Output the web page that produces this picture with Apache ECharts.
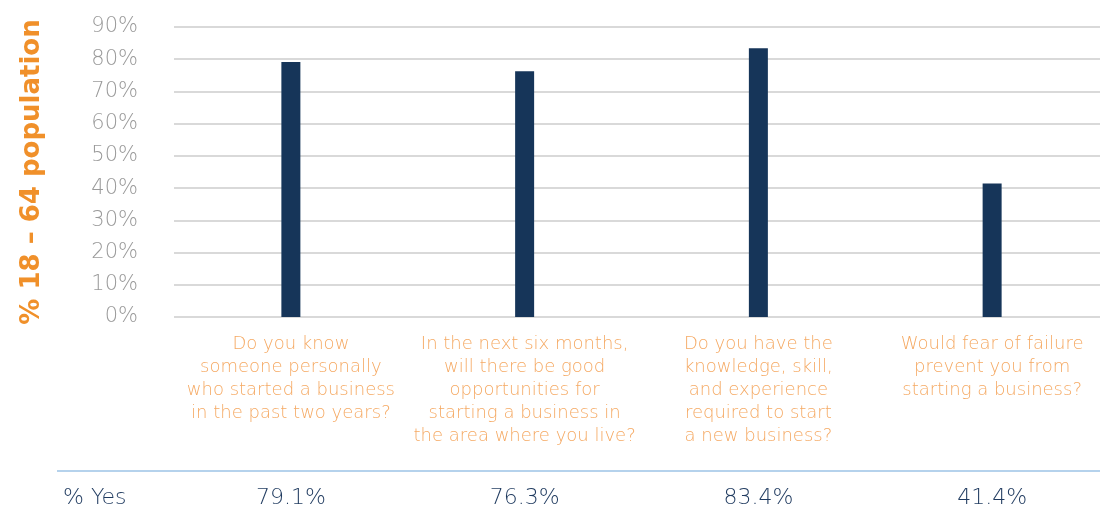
<!DOCTYPE html>
<html>
<head>
<meta charset="utf-8">
<script src="https://cdn.jsdelivr.net/npm/echarts@6/dist/echarts.min.js"></script>
<style>
  html, body { margin: 0; padding: 0; background: #fff; }
  #chart { width: 1100px; height: 514px; }
</style>
</head>
<body>
<div id="chart"></div>
<script>
// Survey questions (x categories) and share answering "yes"
const questions = [
  'Do you know\nsomeone personally\nwho started a business\nin the past two years?',
  'In the next six months,\nwill there be good\nopportunities for\nstarting a business in\nthe area where you live?',
  'Do you have the\nknowledge, skill,\nand experience\nrequired to start\na new business?',
  'Would fear of failure\nprevent you from\nstarting a business?'
];
const yesShare = [79.1, 76.3, 83.4, 41.4];
const yTicks = [0, 10, 20, 30, 40, 50, 60, 70, 80, 90];

const FONT = '"DejaVu Sans", "Open Sans", sans-serif';
const chart = echarts.init(document.getElementById('chart'));

chart.setOption({
  animation: false,
  // plot area runs slightly past the right edge of the canvas
  grid: { left: 174, width: 935, top: 27, height: 290, outerBoundsMode: 'none', containLabel: false },
  xAxis: {
    type: 'category',
    data: questions,
    axisLine: { show: false },
    axisTick: { show: false },
    axisLabel: {
      interval: 0,
      margin: 16,
      color: '#F5A963',
      fontFamily: FONT,
      fontWeight: 200,
      fontSize: 18,
      lineHeight: 23,
      align: 'center',
      verticalAlign: 'top'
    }
  },
  yAxis: {
    type: 'value',
    min: yTicks[0],
    max: yTicks[yTicks.length - 1],
    interval: 10,
    name: '% 18 – 64 population',
    nameLocation: 'middle',
    nameGap: 129,
    nameRotate: 90,
    nameTextStyle: {
      color: '#F0902A',
      fontFamily: FONT,
      fontWeight: 'bold',
      fontSize: 26
    },
    axisLabel: {
      formatter: v => v + '%',
      color: '#9A9A9A',
      fontFamily: FONT,
      fontWeight: 200,
      fontSize: 21,
      margin: 36
    },
    splitLine: { lineStyle: { color: '#D9D9D9', width: 2 } },
    axisLine: { show: false },
    axisTick: { show: false }
  },
  series: [{
    type: 'bar',
    data: yesShare,
    barWidth: 19,
    itemStyle: { color: '#163559' },
    label: {
      show: true,
      position: 'insideBottom',
      offset: [0, 197],
      formatter: p => p.value.toFixed(1) + '%',
      color: '#1F3A5F',
      fontFamily: FONT,
      fontWeight: 200,
      fontSize: 22
    }
  }],
  graphic: [
    {
      type: 'line',
      shape: { x1: 57, y1: 471, x2: 1100, y2: 471 },
      style: { stroke: '#9DC3E6', lineWidth: 1.5 }
    },
    {
      type: 'text',
      left: 63,
      top: 487,
      style: {
        text: '% Yes',
        fill: '#1F3A5F',
        font: '200 22px ' + FONT
      }
    }
  ]
});
</script>
</body>
</html>
